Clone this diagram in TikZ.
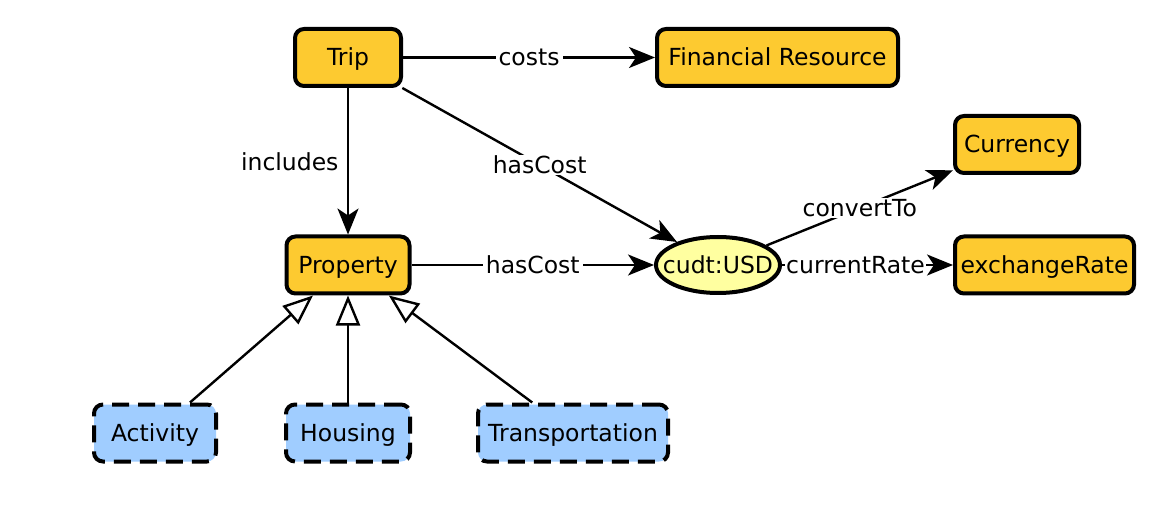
\documentclass[tikz,border=0pt]{standalone}
\usepackage{fontspec}
\setmainfont{DejaVu Sans}
\usetikzlibrary{arrows.meta,shapes.geometric}
\definecolor{cls}{RGB}{253,202,48}
\definecolor{ind}{RGB}{255,255,160}
\definecolor{sub}{RGB}{160,205,255}
\begin{document}
\begin{tikzpicture}[x=1pt,y=-1pt, font=\fontsize{23.5}{27}\selectfont,
 box/.style={draw=black, line width=4pt, rounded corners=9pt, fill=cls, inner sep=0pt, minimum height=57pt, text height=21pt, text depth=4pt},
 subbox/.style={box, fill=sub, dash pattern=on 17pt off 9pt},
 indiv/.style={ellipse, draw=black, line width=4pt, fill=ind, inner sep=0pt, minimum width=124pt, minimum height=56pt, text height=21pt, text depth=4pt},
 edge/.style={line width=2.4pt, -{Stealth[length=26pt,width=21pt,inset=7pt]}},
 isa/.style={line width=2.4pt, -{Triangle[open,length=30pt,width=24pt,fill=white]}},
 lbl/.style={fill=white, inner xsep=3pt, inner ysep=1pt}]
\useasboundingbox (0,0) rectangle (1166,510);
\node[box, minimum width=106pt] (trip) at (348,57.5) {Trip};
\node[box, minimum width=241pt] (fin) at (777.5,57.5) {Financial Resource};
\node[box, minimum width=124pt] (cur) at (1017,144.5) {Currency};
\node[box, minimum width=179pt] (ex) at (1044.5,265) {exchangeRate};
\node[indiv] (usd) at (718,265) {\makebox[60pt]{cudt:USD}};
\node[box, minimum width=123pt] (prop) at (348,265) {Property};
\node[subbox, minimum width=122pt] (act) at (155,433) {Activity};
\node[subbox, minimum width=124pt] (hou) at (348,433) {Housing};
\node[subbox, minimum width=190pt] (tra) at (573,433) {Transportation};
\draw[edge] (trip) -- node[lbl]{costs} (fin);
\draw[edge] (trip) -- node[left=5pt]{includes} (prop);
\draw[edge] (trip) -- node[lbl]{hasCost} (usd);
\draw[edge] (prop) -- node[lbl]{hasCost} (usd);
\draw[edge] (usd) -- node[lbl]{convertTo} (cur);
\draw[edge] (usd) -- node[lbl, pos=0.43, inner xsep=1pt]{currentRate} (ex);
\draw[isa] (act) -- (prop);
\draw[isa] (hou) -- (prop);
\draw[isa] (tra) -- (prop);
\end{tikzpicture}
\end{document}
